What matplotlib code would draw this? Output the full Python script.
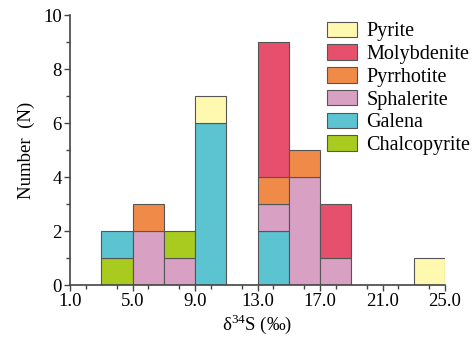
import numpy as np
import matplotlib.pyplot as plt
from matplotlib.patches import Patch
from matplotlib.ticker import MultipleLocator

plt.rcParams['font.family'] = ['Liberation Serif', 'DejaVu Serif']
plt.rcParams['mathtext.fontset'] = 'custom'
plt.rcParams['mathtext.rm'] = 'Liberation Serif'

# bin left edges (width 2 permil)
bin_left = [3, 5, 7, 9, 11, 13, 15, 17, 19, 21, 23]
counts = {
    'Chalcopyrite': [1, 0, 1, 0, 0, 0, 0, 0, 0, 0, 0],
    'Galena':       [1, 0, 0, 6, 0, 2, 0, 0, 0, 0, 0],
    'Sphalerite':   [0, 2, 1, 0, 0, 1, 4, 1, 0, 0, 0],
    'Pyrrhotite':   [0, 1, 0, 0, 0, 1, 1, 0, 0, 0, 0],
    'Molybdenite':  [0, 0, 0, 0, 0, 5, 0, 2, 0, 0, 0],
    'Pyrite':       [0, 0, 0, 1, 0, 0, 0, 0, 0, 0, 1],
}
# stacking order within each bin (bottom -> top)
stack_order = {
    3: ['Chalcopyrite', 'Galena'],
    7: ['Sphalerite', 'Chalcopyrite'],
}
default_order = ['Galena', 'Sphalerite', 'Pyrrhotite', 'Molybdenite', 'Pyrite', 'Chalcopyrite']
colors = {
    'Pyrite': '#FFF9B0',
    'Molybdenite': '#E6506C',
    'Pyrrhotite': '#F08A48',
    'Sphalerite': '#D8A0C2',
    'Galena': '#5CC3D1',
    'Chalcopyrite': '#A9CB20',
}
legend_order = ['Pyrite', 'Molybdenite', 'Pyrrhotite', 'Sphalerite', 'Galena', 'Chalcopyrite']

fig = plt.figure(figsize=(4.77, 3.41), dpi=100)
ax = fig.add_axes([0.147, 0.164, 0.786, 0.792])

for i, x0 in enumerate(bin_left):
    order = stack_order.get(x0, default_order)
    bottom = 0
    for m in order:
        h = counts[m][i]
        if h == 0:
            continue
        ax.bar(x0, h, width=2, bottom=bottom, align='edge', color=colors[m],
               edgecolor='#555555', linewidth=0.8, zorder=2)
        bottom += h

ax.set_xlim(1, 25)
ax.set_ylim(0, 10)
ax.set_xticks([1, 5, 9, 13, 17, 21, 25])
ax.set_xticklabels(['1.0', '5.0', '9.0', '13.0', '17.0', '21.0', '25.0'])
ax.xaxis.set_minor_locator(MultipleLocator(2))
ax.set_yticks([0, 2, 4, 6, 8, 10])
ax.yaxis.set_minor_locator(MultipleLocator(1))
ax.tick_params(labelsize=13.5, length=4, width=1, color='#444444', pad=2)
ax.tick_params(which='minor', length=3, width=1, color='#444444')
for s in ['top', 'right']:
    ax.spines[s].set_visible(False)
for s in ['left', 'bottom']:
    ax.spines[s].set_color('#444444')
    ax.spines[s].set_linewidth(1.2)

ax.set_xlabel(r'δ$^{\mathregular{34}}$S (‰)', fontsize=13.5, labelpad=1)
ax.set_ylabel('Number  (N)', fontsize=13.5, labelpad=6)

handles = [Patch(facecolor=colors[m], edgecolor='#555555', linewidth=0.8, label=m)
           for m in legend_order]
ax.legend(handles=handles, loc='upper right', bbox_to_anchor=(1.1, 1.02), frameon=False,
          fontsize=14.5, handlelength=1.5, handleheight=0.8, handletextpad=0.45,
          labelspacing=0.15, borderaxespad=0.2)

fig.savefig('out.png', dpi=100)
